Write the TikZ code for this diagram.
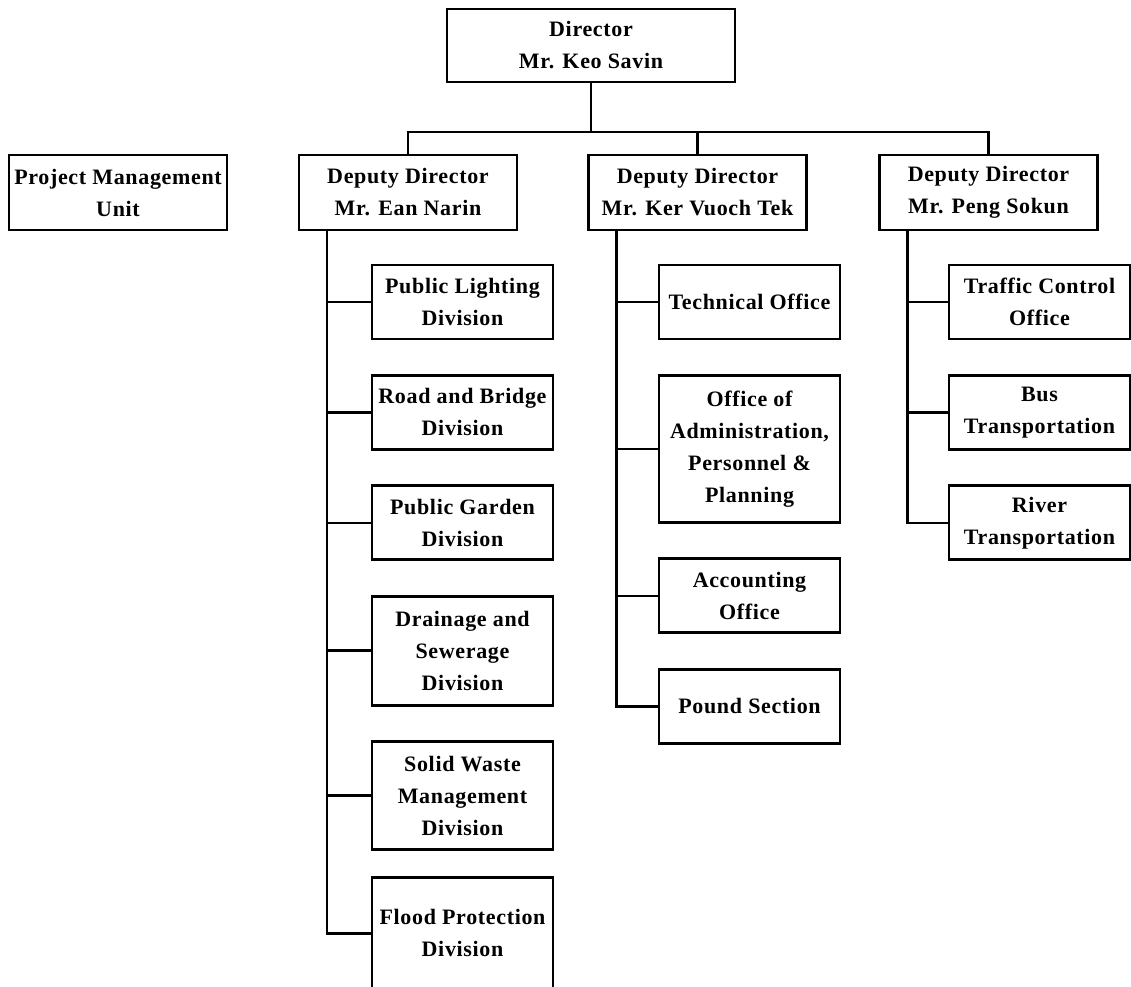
\documentclass[tikz,border=0pt]{standalone}
\usepackage{fontspec}
\setmainfont{Liberation Serif}[LetterSpace=3]
\usetikzlibrary{positioning}
\newcommand{\orgfont}{\fontsize{22}{32}\selectfont\bfseries}
\tikzset{
 unit/.style={draw,line width=2.8pt,align=center,minimum width=181pt,
              minimum height=74pt,inner sep=2pt,font=\orgfont},
 head/.style={unit,minimum width=218pt,minimum height=75pt},
 link/.style={line width=2.6pt},
}

\begin{document}
\begin{tikzpicture}[x=1pt,y=1pt,node distance=33.6pt]
\useasboundingbox[fill=white] (0,0) rectangle (1131,-986);
% top levels
\node[head,minimum width=288pt,minimum height=73pt] (dir) at (591,-45.5) {Director\\Mr. Keo Savin};
\node[head] (pmu) at (118,-192.5) {Project Management\\Unit};
\node[head] (ean) at (408,-192.5) {Deputy Director\\Mr. Ean Narin};
\node[head] (ker) at (697.5,-192.5) {Deputy Director\\Mr. Ker Vuoch Tek};
\node[head] (peng) at (988.5,-192.5) {Deputy Director\\Mr. Peng Sokun};
% Ean Narin
\node[unit] (light) at (462.5,-302) {Public Lighting\\Division};
\node[unit,below=of light] (road) {Road and Bridge\\Division};
\node[unit,below=of road] (garden) {Public Garden\\Division};
\node[unit,below=of garden,minimum height=109pt] (drain) {Drainage and\\Sewerage\\Division};
\node[unit,below=of drain,minimum height=108pt] (waste) {Solid Waste\\Management\\Division};
\node[unit,below=25pt of waste,minimum height=112pt] (flood) {Flood Protection\\Division};
% Ker Vuoch Tek
\node[unit] (tech) at (749.5,-302) {Technical Office};
\node[unit,below=of tech,minimum height=147pt] (admin) {Office of\\Administration,\\Personnel \&\\Planning};
\node[unit,below=of admin] (acct) {Accounting\\Office};
\node[unit,below=of acct] (pound) {Pound Section};
% Peng Sokun
\node[unit] (traffic) at (1039.5,-302) {Traffic Control\\Office};
\node[unit,below=of traffic] (bus) {Bus\\Transportation};
\node[unit,below=of bus] (river) {River\\Transportation};

\coordinate (bar) at (591,-132);
\coordinate (eanspine) at ([xshift=29.5pt]ean.south west);
\coordinate (kerspine) at ([xshift=29.5pt]ker.south west);
\coordinate (pengspine) at ([xshift=29.5pt]peng.south west);

\draw[link] (dir) -- (bar);
\draw[link] (ean.north) |- (bar) -| (peng.north);
\draw[link] (ker.north) -- (ker.north |- bar);

\draw[link] (eanspine) |- (flood.west);
\foreach \n in {light,road,garden,drain,waste}
  \draw[link] (eanspine |- \n.west) -- (\n.west);
\draw[link] (kerspine) |- (pound.west);
\foreach \n in {tech,admin,acct}
  \draw[link] (kerspine |- \n.west) -- (\n.west);
\draw[link] (pengspine) |- (river.west);
\foreach \n in {traffic,bus}
  \draw[link] (pengspine |- \n.west) -- (\n.west);
\end{tikzpicture}
\end{document}
